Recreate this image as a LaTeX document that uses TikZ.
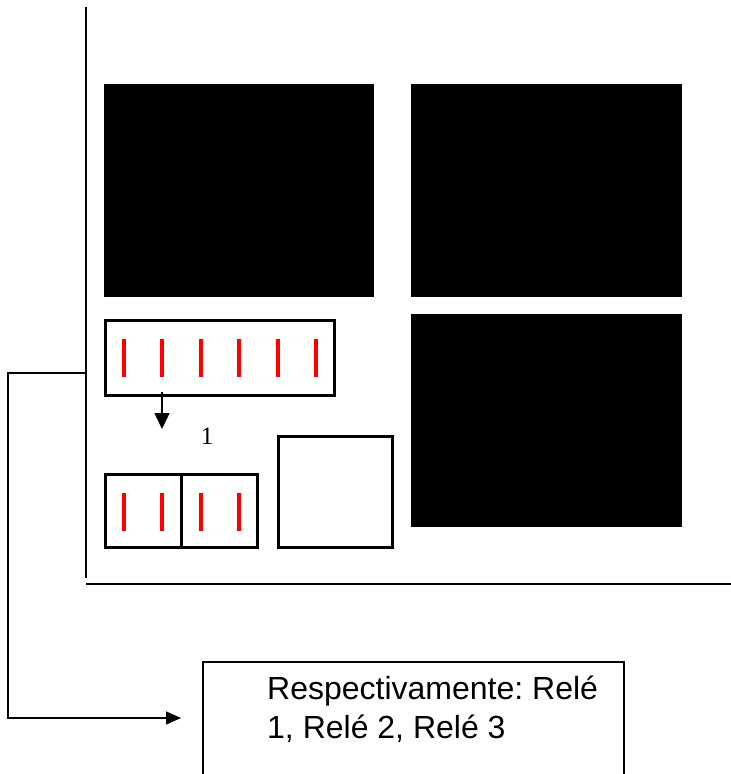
\documentclass[tikz,border=0pt]{standalone}
\usepackage{fontspec}
\setmainfont{Liberation Serif}
\newfontfamily\labelsans{Liberation Sans}
\usetikzlibrary{arrows.meta}
\frenchspacing
\begin{document}
\begin{tikzpicture}[x=1pt,y=-1pt,
  blk/.style={fill=black, draw=none, inner sep=0pt, outer sep=0pt},
  relay/.style={draw=black, line width=3pt, inner sep=0pt, outer sep=0pt},
  tick/.style={red, line width=3.5pt},
  axisline/.style={line width=2pt},
  thinline/.style={line width=1.5pt},
  boxtext/.style={font=\labelsans\fontsize{32}{39}\selectfont\frenchspacing, anchor=base west, inner sep=0pt}]
\useasboundingbox (0,0) rectangle (731,774);
% axes
\coordinate (vtop) at (86,7);
\coordinate (vbot) at (86,578);
\coordinate (hl) at (86,584);
\coordinate (hr) at (731,584);
\draw[axisline] (vtop) -- (vbot);
\draw[axisline] (hl) -- (hr);
% black blocks
\node[blk, minimum width=270pt, minimum height=213pt] (b1) at (239,190.5) {};
\node[blk, minimum width=271pt, minimum height=213pt] (b2) at (546.5,190.5) {};
\node[blk, minimum width=271pt, minimum height=213pt] (b3) at (546.5,420.5) {};
% relay strip
\node[relay, minimum width=229pt, minimum height=75pt] (strip) at (220,358) {};
\foreach \x in {124,162,201,239,278,316}
  \draw[tick] (\x,339) -- (\x,377);
% bottom relays
\node[relay, minimum width=75.5pt, minimum height=73pt] (r1) at (143.25,511) {};
\node[relay, minimum width=76.5pt, minimum height=73pt] (r2) at (219.25,511) {};
\foreach \x in {124,162,201,239}
  \draw[tick] (\x,493) -- (\x,531);
% empty square
\node[relay, minimum width=114pt, minimum height=111pt] (sq) at (335.5,492) {};
% arrow and label
\coordinate (as) at (162,392);
\coordinate (ae) at (162,429);
\draw[thinline, -{Triangle[length=16pt,width=15pt]}] (as) -- (ae);
\node[font=\fontsize{25}{29}\selectfont, inner sep=0pt] (one) at (207,436.5) {1};
% text box
\node[draw, thinline, anchor=north west, minimum width=421pt, minimum height=140pt, inner sep=0pt] (tbox) at (202,661) {};
\node[boxtext] (txt1) at (267,699.5) {Respectivamente: Relé};
\node[boxtext] (txt2) at (267,738) {1, Relé 2, Relé 3};
% connector
\coordinate (cs) at (86,373);
\coordinate (tip) at (181,718);
\draw[thinline, -{Triangle[length=15pt,width=13pt]}] (cs) -- (8,373) |- (tip);
\end{tikzpicture}
\end{document}
